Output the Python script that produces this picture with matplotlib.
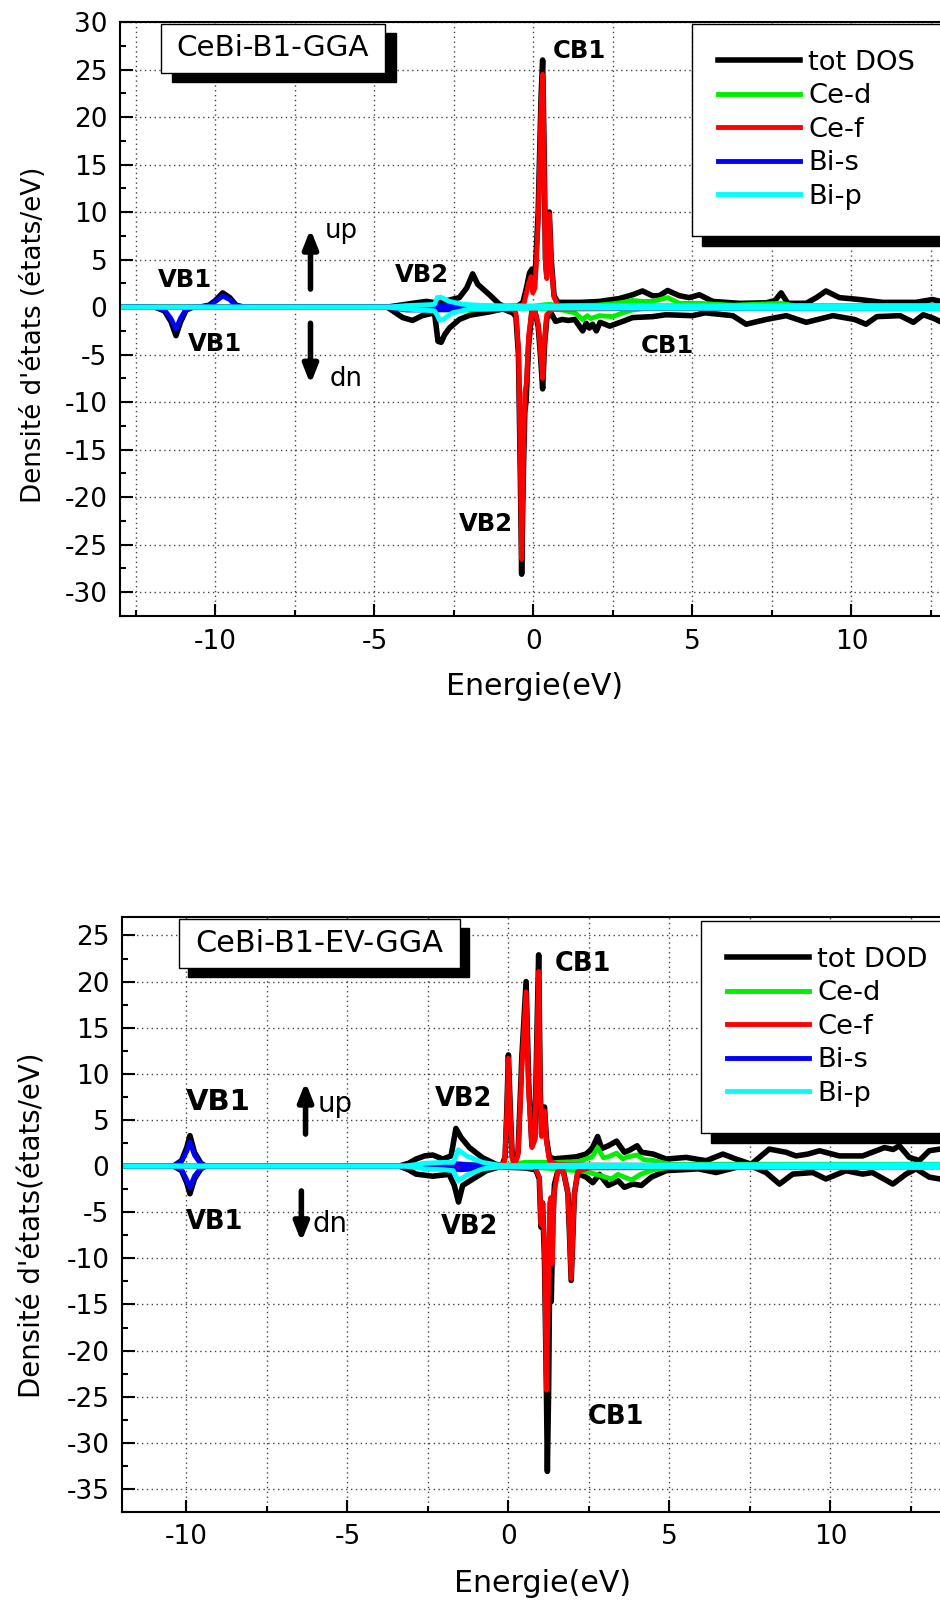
import numpy as np
import matplotlib.pyplot as plt
from matplotlib.patches import Rectangle
from matplotlib.ticker import MultipleLocator
from matplotlib.transforms import IdentityTransform

plt.rcParams.update({
    'font.family': 'DejaVu Sans',
    'axes.unicode_minus': False,
})

W, H = 940, 1602

# ---- CeBi B1 GGA : (energie eV, DOS) ----
gga_tot_up = [(-13, 0), (-10.5, 0), (-10.2, 0.2), (-10.0, 0.7), (-9.77, 1.5), (-9.55, 1.0), (-9.35, 0.2),
              (-9.1, 0), (-4.6, 0), (-4.2, 0.2), (-3.8, 0.4), (-3.37, 0.6), (-3.06, 0.45), (-2.7, 0.7),
              (-2.33, 1.0), (-2.1, 2.0), (-2.01, 2.7), (-1.91, 3.5), (-1.75, 2.4), (-1.55, 1.8), (-1.38, 1.3),
              (-1.07, 0.3), (-0.9, 0.05), (-0.5, 0.1), (-0.33, 0.5), (-0.22, 2.0), (-0.12, 3.6), (-0.05, 4.0),
              (0.0, 3.0), (0.05, 3.0), (0.15, 10), (0.24, 22), (0.29, 26.0), (0.33, 18), (0.38, 5), (0.42, 4),
              (0.5, 10.0), (0.56, 5), (0.65, 1.2), (0.77, 0.5), (1.1, 0.5), (1.5, 0.5), (2.08, 0.6),
              (2.39, 0.75), (2.7, 0.9), (3.12, 1.3), (3.43, 1.7), (3.74, 1.2), (3.96, 1.2), (4.22, 1.75),
              (4.59, 1.2), (4.9, 1.0), (5.22, 1.3), (5.64, 0.6), (6.48, 0.4), (7.32, 0.45), (7.6, 0.7),
              (7.79, 1.5), (8.0, 0.4), (8.58, 0.4), (8.9, 1.0), (9.2, 1.7), (9.62, 1.0), (10.25, 0.8),
              (10.98, 0.5), (12.03, 0.5), (12.55, 0.8), (12.8, 0.6), (13.3, 0.9), (14, 0.6)]
gga_tot_dn = [(-13, 0), (-11.9, 0), (-11.6, -0.4), (-11.4, -1.5), (-11.24, -3.0), (-11.1, -1.6), (-10.92, -0.3),
              (-10.7, 0), (-4.6, 0), (-4.11, -1.1), (-3.8, -1.4), (-3.5, -0.9), (-3.11, -0.6), (-3.0, -3.6),
              (-2.9, -3.7), (-2.79, -2.9), (-2.64, -2.2), (-2.33, -1.3), (-2.0, -0.85), (-1.38, -0.5),
              (-0.96, -0.2), (-0.65, -0.6), (-0.55, -1.0), (-0.47, -5), (-0.41, -18), (-0.37, -28.1),
              (-0.32, -18), (-0.27, -11), (-0.23, -9.9), (-0.15, -4), (-0.05, -0.5), (0.05, -0.5),
              (0.15, -2), (0.22, -5), (0.29, -8.6), (0.35, -4), (0.42, -1.2), (0.55, -0.6), (0.7, -1.5),
              (0.9, -1.3), (1.1, -1.4), (1.3, -1.3), (1.55, -2.5), (1.66, -1.7), (1.76, -2.2), (1.86, -1.8),
              (1.98, -2.5), (2.1, -1.6), (2.4, -2.0), (2.81, -1.5), (3.12, -1.1), (3.75, -1.0), (4.17, -0.8),
              (5.0, -0.9), (5.4, -0.6), (6.27, -0.9), (6.69, -1.8), (7.32, -1.3), (7.95, -0.9), (8.58, -1.6),
              (9.42, -0.9), (10.1, -1.3), (10.46, -1.8), (10.8, -1.0), (11.53, -0.9), (11.95, -1.6),
              (12.26, -0.8), (12.6, -1.2), (12.9, -1.7), (14, -1.4)]
gga_ced_up = [(-13, 0), (-3.0, 0), (-2.8, 0.2), (-2.0, 0.15), (-1.0, 0.1), (0.0, 0.1), (0.5, 0.3), (0.9, 0.15),
              (1.99, 0.2), (2.5, 0.35), (2.83, 0.5), (3.12, 0.7), (3.43, 0.6), (3.74, 0.6), (4.22, 1.0),
              (4.59, 0.4), (5.22, 0.4), (6.27, 0.2), (7.79, 0.4), (8.2, 0.15), (14, 0.15)]
gga_ced_dn = [(-13, 0), (-3.0, 0), (-2.8, -0.3), (-2.0, -0.3), (-1.0, -0.15), (0.0, -0.1), (0.5, -0.2),
              (0.9, -0.3), (1.3, -0.6), (1.55, -1.3), (1.7, -0.9), (1.8, -1.2), (1.99, -1.0), (2.08, -0.9),
              (2.5, -1.0), (2.81, -0.6), (3.12, -0.3), (3.5, -0.15), (14, -0.15)]
gga_cef_up = [(-13, 0), (-0.6, 0), (-0.3, 0.3), (-0.15, 2.5), (-0.08, 3.2), (-0.02, 1.5), (0.05, 2.0),
              (0.15, 9), (0.24, 21), (0.29, 24.5), (0.33, 17), (0.38, 4), (0.42, 3), (0.5, 9.8), (0.56, 4.5),
              (0.65, 1.0), (0.77, 0.2), (1.0, 0.1), (14, 0.05)]
gga_cef_dn = [(-13, 0), (-0.7, 0), (-0.55, -0.6), (-0.47, -4.5), (-0.41, -17), (-0.37, -26.5), (-0.32, -17),
              (-0.27, -9), (-0.22, -8), (-0.15, -3), (-0.05, -0.4), (0.05, -0.4), (0.15, -1.8), (0.22, -4.5),
              (0.29, -7.5), (0.35, -3.5), (0.42, -0.8), (0.6, -0.2), (14, 0)]
gga_bis_up = [(-13, 0), (-10.5, 0), (-10.2, 0.15), (-10.0, 0.6), (-9.77, 1.16), (-9.55, 0.8), (-9.35, 0.15),
              (-9.1, 0), (-4.6, 0), (-4.0, 0.15), (-3.0, 0.2), (-2.0, 0.1), (0.0, 0.0), (3.0, 0.1), (14, 0.1)]
gga_bis_dn = [(-13, 0), (-11.9, 0), (-11.6, -0.3), (-11.4, -1.2), (-11.24, -2.3), (-11.1, -1.2),
              (-10.92, -0.2), (-10.7, 0), (-4.6, 0), (-4.0, -0.3), (-3.0, -0.3), (-2.0, -0.2), (0.0, 0.0),
              (3.0, -0.1), (14, -0.1)]
gga_bip_up = [(-13, 0), (-4.6, 0), (-4.0, 0.15), (-3.3, 0.25), (-3.11, 0.3), (-3.02, 1.0), (-2.92, 1.05),
              (-2.64, 0.6), (-2.22, 0.3), (-1.5, 0.15), (0, 0.1), (3, 0.15), (14, 0.15)]
gga_bip_dn = [(-13, 0), (-4.6, 0), (-4.0, -0.2), (-3.11, -0.4), (-3.0, -1.0), (-2.95, -1.4), (-2.8, -1.2),
              (-2.55, -0.6), (-2.0, -0.2), (0, -0.1), (14, -0.15)]

# ---- CeBi B1 EV-GGA ----
ev_tot_up = [(-12, 0), (-10.4, 0), (-10.15, 0.6), (-9.99, 2.0), (-9.89, 3.3), (-9.75, 1.5), (-9.55, 0.3),
             (-9.4, 0), (-3.4, 0), (-3.1, 0.3), (-2.87, 0.76), (-2.6, 1.1), (-2.35, 1.2), (-2.04, 0.76),
             (-1.78, 1.1), (-1.63, 4.08), (-1.47, 3.1), (-1.21, 2.0), (-0.8, 0.9), (-0.39, 0.2), (-0.2, 0.05),
             (-0.1, 1.0), (-0.05, 6), (0.0, 12.05), (0.06, 6), (0.12, 1.0), (0.19, 0.2), (0.3, 1.5),
             (0.42, 12), (0.55, 20.0), (0.63, 9), (0.73, 2.2), (0.82, 3.0), (0.89, 15), (0.94, 22.9),
             (0.99, 8), (1.03, 3.5), (1.08, 5.5), (1.12, 6.4), (1.18, 3), (1.27, 1.0), (1.4, 0.8), (1.48, 0.8),
             (2.1, 1.0), (2.41, 1.3), (2.6, 1.9), (2.77, 3.2), (2.9, 1.9), (3.1, 2.2), (3.36, 2.7), (3.6, 1.5),
             (3.75, 1.7), (4.0, 2.2), (4.13, 1.5), (4.5, 1.3), (4.9, 0.76), (5.52, 0.94), (6.14, 0.58),
             (6.66, 1.3), (7.07, 0.76), (7.54, 0.2), (8.1, 1.84), (8.62, 1.5), (8.93, 1.1), (9.3, 1.3),
             (9.66, 1.66), (10.28, 1.1), (11.0, 1.1), (11.68, 2.0), (11.95, 1.8), (12.14, 2.2), (12.45, 0.94),
             (12.76, 0.6), (13.07, 1.66), (13.4, 1.84), (14, 1.5)]
ev_tot_dn = [(-12, 0), (-10.4, 0), (-10.15, -0.5), (-9.99, -1.8), (-9.89, -3.0), (-9.75, -1.4), (-9.55, -0.3),
             (-9.4, 0), (-3.4, 0), (-3.1, -0.4), (-2.87, -0.87), (-2.35, -1.1), (-1.84, -0.9), (-1.68, -2.1),
             (-1.55, -3.9), (-1.42, -2.1), (-1.1, -1.4), (-0.68, -0.5), (-0.3, -0.1), (0.5, -0.2),
             (0.85, -0.4), (0.96, -1.4), (1.01, -6.6), (1.06, -4), (1.12, -10), (1.18, -24), (1.21, -33.1),
             (1.25, -24), (1.28, -12), (1.33, -14.7), (1.38, -6), (1.43, -2), (1.53, -0.6), (1.7, -0.4),
             (1.85, -3), (1.95, -12.4), (2.05, -3), (2.15, -0.8), (2.41, -1.2), (2.62, -1.8), (2.83, -0.9),
             (3.1, -2.1), (3.41, -1.6), (3.6, -2.3), (3.87, -1.95), (4.13, -2.1), (4.44, -1.2), (4.9, -0.5),
             (5.9, -0.3), (6.45, -0.7), (7.07, -0.15), (7.54, 0), (8.0, -0.7), (8.42, -1.95), (8.83, -0.87),
             (9.45, -0.7), (9.86, -1.4), (10.48, -0.5), (11.0, -0.87), (11.3, -0.7), (11.94, -1.95),
             (12.35, -0.87), (12.66, -0.3), (13.07, -1.2), (13.4, -1.4), (14, -1.2)]
ev_ced_up = [(-12, 0), (-3.0, 0), (-2.5, 0.1), (-1.6, 0.3), (-1.0, 0.1), (0.0, 0.1), (0.5, 0.4), (1.0, 0.4),
             (1.5, 0.4), (2.2, 0.5), (2.6, 1.0), (2.77, 2.0), (2.95, 0.9), (3.1, 1.0), (3.36, 1.4), (3.55, 0.8),
             (3.7, 1.0), (4.0, 1.2), (4.2, 0.7), (4.5, 0.6), (5.0, 0.2), (8.1, 0.2), (14, 0.2)]
ev_ced_dn = [(-12, 0), (-3.0, 0), (-1.6, -0.4), (-1.0, -0.1), (0.0, -0.1), (1.0, -0.2), (1.5, -0.3),
             (2.41, -0.6), (2.83, -1.0), (3.2, -1.4), (3.4, -0.9), (3.6, -1.2), (3.83, -1.5), (4.1, -0.9),
             (4.5, -0.4), (5.0, -0.15), (14, -0.15)]
ev_cef_up = [(-12, 0), (-0.25, 0), (-0.12, 0.5), (-0.05, 5.5), (0.0, 11.7), (0.06, 5.5), (0.12, 0.8),
             (0.19, 0.1), (0.3, 1.2), (0.42, 11), (0.55, 18.9), (0.63, 8), (0.73, 2.0), (0.82, 2.8),
             (0.89, 14), (0.94, 21.1), (0.99, 7.5), (1.03, 3.2), (1.08, 5.2), (1.12, 6.0), (1.18, 2.8),
             (1.27, 0.6), (1.5, 0.2), (2.5, 0.1), (14, 0.05)]
ev_cef_dn = [(-12, 0), (0.8, 0), (0.96, -1.2), (1.01, -6.3), (1.06, -4), (1.12, -9), (1.18, -24.3),
             (1.23, -16), (1.28, -4), (1.32, -3.4), (1.36, -10.6), (1.42, -3), (1.53, -0.6), (1.7, -0.5),
             (1.85, -3), (1.95, -12.2), (2.05, -3), (2.15, -0.6), (2.5, -0.2), (14, -0.05)]
ev_bis_up = [(-12, 0), (-10.4, 0), (-10.15, 0.5), (-9.99, 1.6), (-9.89, 2.6), (-9.75, 1.2), (-9.55, 0.2),
             (-9.4, 0), (-3.2, 0), (-2.5, 0.1), (-1.6, 0.2), (-0.8, 0.1), (0, 0), (14, 0.05)]
ev_bis_dn = [(-12, 0), (-10.4, 0), (-10.15, -0.4), (-9.99, -1.5), (-9.89, -2.3), (-9.75, -1.1), (-9.55, -0.2),
             (-9.4, 0), (-3.2, 0), (-2.0, -0.2), (-1.5, -0.4), (-1.0, -0.3), (-0.5, -0.1), (0, 0), (14, -0.05)]
ev_bip_up = [(-12, 0), (-3.2, 0), (-2.6, 0.3), (-2.0, 0.4), (-1.71, 0.4), (-1.56, 1.77), (-1.3, 1.1),
             (-0.8, 0.4), (-0.3, 0.1), (0, 0.05), (2, 0.1), (14, 0.15)]
ev_bip_dn = [(-12, 0), (-3.2, 0), (-2.6, -0.3), (-2.0, -0.4), (-1.71, -0.5), (-1.56, -1.6), (-1.3, -1.0),
             (-0.8, -0.3), (-0.3, -0.1), (0, -0.05), (14, -0.15)]

labels_gga = ['tot DOS', 'Ce-d', 'Ce-f', 'Bi-s', 'Bi-p']
labels_ev = ['tot DOD', 'Ce-d', 'Ce-f', 'Bi-s', 'Bi-p']
colors = ['#000000', '#00ee00', '#ff0000', '#0000ff', '#00ffff']

fig = plt.figure(figsize=(W / 100, H / 100), dpi=100)
fig.patch.set_facecolor('white')


def fx(x):
    return x / W


def fy(y):
    return 1 - y / H


def shadow_box(ax, x0, y0, x1, y1, dx, dy, text, size):
    ax.add_artist(Rectangle((fx(x0 + dx), fy(y1 + dy)), (x1 - x0) / W, (y1 - y0) / H,
                            transform=fig.transFigure, facecolor='black', edgecolor='black',
                            clip_on=False, zorder=6))
    ax.add_artist(Rectangle((fx(x0), fy(y1)), (x1 - x0) / W, (y1 - y0) / H,
                            transform=fig.transFigure, facecolor='white', edgecolor='black', lw=1.0,
                            clip_on=False, zorder=6.1))
    ax.text(fx((x0 + x1) / 2), fy((y0 + y1) / 2), text, transform=fig.transFigure,
            ha='center', va='center', fontsize=size, zorder=6.2)


def style_axes(ax, xlim, ylim):
    ax.set_xlim(*xlim)
    ax.set_ylim(*ylim)
    ax.xaxis.set_major_locator(MultipleLocator(5))
    ax.xaxis.set_minor_locator(MultipleLocator(2.5))
    ax.yaxis.set_major_locator(MultipleLocator(5))
    ax.yaxis.set_minor_locator(MultipleLocator(2.5))
    ax.tick_params(which='both', direction='in', width=1.5, labelsize=19)
    ax.tick_params(which='major', length=9)
    ax.tick_params(which='minor', length=4.5)
    ax.tick_params(axis='x', pad=9)
    ax.tick_params(axis='y', pad=9)
    for s in ax.spines.values():
        s.set_linewidth(1.5)
    ax.set_axisbelow(True)
    ax.grid(which='major', axis='y', ls=(0, (1, 2.5)), color='#444444', lw=1.0)
    ax.grid(which='both', axis='x', ls=(0, (1, 2.5)), color='#444444', lw=1.0)


def draw_dos(ax, series, labels):
    handles = []
    for (up, dn), lab, c in zip(series, labels, colors):
        lw = 4.0 if c == '#000000' else 3.5
        e, v = np.array(up).T
        h, = ax.plot(e, v, color=c, lw=lw, label=lab, solid_joinstyle='round')
        e, v = np.array(dn).T
        ax.plot(e, v, color=c, lw=lw, solid_joinstyle='round')
        handles.append(h)
    return handles


def arrow(ax, x, y0, y1):
    ax.annotate('', xy=(x, y1), xytext=(x, y0),
                arrowprops=dict(arrowstyle='-|>,head_width=0.22,head_length=0.55', lw=4, color='black',
                                mutation_scale=20, shrinkA=0, shrinkB=0))


def legend(ax, handles, x0, y0):
    leg = ax.legend(handles=handles, loc='upper left', bbox_to_anchor=(fx(x0), fy(y0)),
                    bbox_transform=fig.transFigure, borderaxespad=0, fontsize=19.7, frameon=True,
                    fancybox=False, framealpha=1, edgecolor='black', borderpad=0.95, labelspacing=0.27,
                    handlelength=3.0, handletextpad=0.3)
    leg.get_frame().set_linewidth(1.0)
    leg.set_zorder(8)
    return leg


# ---------------- panel 1 ----------------
ax1 = fig.add_axes([fx(120), fy(616), 858.6 / W, 594 / H])
style_axes(ax1, (-13, 14), (-32.5, 30))
h1 = draw_dos(ax1, [(gga_tot_up, gga_tot_dn), (gga_ced_up, gga_ced_dn), (gga_cef_up, gga_cef_dn),
                    (gga_bis_up, gga_bis_dn), (gga_bip_up, gga_bip_dn)], labels_gga)
ax1.set_xlabel('Energie(eV)', fontsize=21.6)
ax1.set_ylabel("Densité d'états (états/eV)", fontsize=18.8)
ax1.xaxis.set_label_coords(0.483, -0.094)
ax1.yaxis.set_label_coords(-0.085, 0.473)
bold = dict(fontsize=17.5, fontweight='bold', ha='center', va='center')
ax1.text(-10.96, 2.84, 'VB1', **bold)
ax1.text(-10.02, -3.9, 'VB1', **bold)
ax1.text(-3.49, 3.37, 'VB2', **bold)
ax1.text(-1.49, -22.8, 'VB2', **bold)
ax1.text(1.45, 26.9, 'CB1', **bold)
ax1.text(4.21, -4.1, 'CB1', **bold)
ax1.text(-6.57, 8.0, 'up', fontsize=18.7, ha='left', va='center')
ax1.text(-6.42, -7.6, 'dn', fontsize=18.7, ha='left', va='center')
arrow(ax1, -7.01, 1.9, 8.2)
arrow(ax1, -7.01, -1.7, -8.1)
shadow_box(ax1, 161, 24, 385, 73, 11, 9, 'CeBi-B1-GGA', 21.2)
leg1 = legend(ax1, h1, 692, 24)

# ---------------- panel 2 ----------------
ax2 = fig.add_axes([fx(122), fy(1512), 837.2 / W, 595 / H])
style_axes(ax2, (-12, 14), (-37.5, 27))
h2 = draw_dos(ax2, [(ev_tot_up, ev_tot_dn), (ev_ced_up, ev_ced_dn), (ev_cef_up, ev_cef_dn),
                    (ev_bis_up, ev_bis_dn), (ev_bip_up, ev_bip_dn)], labels_ev)
ax2.set_xlabel('Energie(eV)', fontsize=21.6)
ax2.set_ylabel("Densité d'états(états/eV)", fontsize=19.8)
ax2.xaxis.set_label_coords(0.502, -0.096)
ax2.yaxis.set_label_coords(-0.0896, 0.482)
bold2 = dict(fontsize=18.5, fontweight='bold', ha='center', va='center')
ax2.text(-9.02, 6.93, 'VB1', fontsize=21, fontweight='bold', ha='center', va='center')
ax2.text(-9.13, -6.07, 'VB1', **bold2)
ax2.text(-1.38, 7.26, 'VB2', **bold2)
ax2.text(-1.2, -6.6, 'VB2', **bold2)
ax2.text(2.33, 21.9, 'CB1', **bold2)
ax2.text(3.35, -27.2, 'CB1', **bold2)
ax2.text(-5.93, 6.7, 'up', fontsize=19.9, ha='left', va='center')
ax2.text(-6.09, -6.3, 'dn', fontsize=19.9, ha='left', va='center')
arrow(ax2, -6.3, 3.47, 9.1)
arrow(ax2, -6.43, -2.7, -8.2)
shadow_box(ax2, 179, 919, 460, 968, 9, 9, 'CeBi-B1-EV-GGA', 21.8)
leg2 = legend(ax2, h2, 701, 921)

# ombres des légendes, placées d'après la boîte réellement dessinée
fig.canvas.draw()
renderer = fig.canvas.get_renderer()
for ax, leg in [(ax1, leg1), (ax2, leg2)]:
    bb = leg.get_frame().get_window_extent(renderer)
    ax.add_artist(Rectangle((bb.x0 + 10, bb.y0 - 10), bb.width, bb.height, transform=IdentityTransform(),
                            facecolor='black', edgecolor='black', clip_on=False, zorder=7.9))

fig.savefig('out.png', dpi=100)
